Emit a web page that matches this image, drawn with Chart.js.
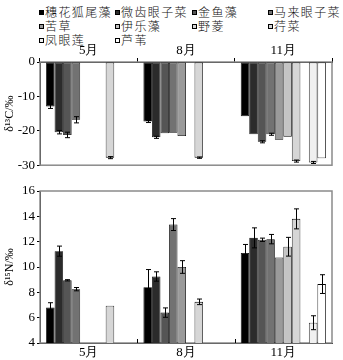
<!DOCTYPE html>
<html><head><meta charset="utf-8">
<script src="https://cdn.jsdelivr.net/npm/chart.js@4/dist/chart.umd.min.js"></script>
<style>
html,body{margin:0;padding:0;background:#fff;width:343px;height:360px;overflow:hidden;}
#legend{position:absolute;left:0;top:0;width:343px;height:46px;font-family:"Noto Sans CJK SC",sans-serif;font-size:12px;letter-spacing:1.4px;color:#111;font-weight:300;}
.li{position:absolute;height:14px;line-height:14px;white-space:nowrap;}
.mk{display:inline-block;width:3px;height:3px;border:1px solid #000;margin-right:1px;vertical-align:middle;position:relative;top:-1px;}
#c1wrap{position:absolute;left:0;top:44px;width:343px;height:131px;}
#c2wrap{position:absolute;left:0;top:175px;width:343px;height:185px;}
</style></head>
<body>
<div id="legend"></div>
<div id="c1wrap"><canvas id="c1"></canvas></div>
<div id="c2wrap"><canvas id="c2"></canvas></div>
<script>
const months = ["5月", "8月", "11月"];
const species = ["穗花狐尾藻", "微齿眼子菜", "金鱼藻", "马来眼子菜", "苦草", "伊乐藻", "野菱", "荇菜", "凤眼莲", "芦苇"];
const colors = ["#000000", "#2b2b2b", "#555555", "#727272", "#9a9a9a", "#c4c4c4", "#d6d6d6", "#d6d6d6", "#f0f0f0", "#ffffff"];

// δ13C values per species (5月, 8月, 11月)
const c_穗花狐尾藻 = [-12.9, -17.3, -15.8];
const c_微齿眼子菜 = [-20.4, -21.9, -21.0];
const c_金鱼藻 = [-21.2, -20.7, -23.2];
const c_马来眼子菜 = [-16.8, -20.6, -21.0];
const c_苦草 = [null, -21.5, -22.6];
const c_伊乐藻 = [null, null, -21.7];
const c_野菱 = [null, -27.8, -28.8];
const c_荇菜 = [-27.8, null, null];
const c_凤眼莲 = [null, null, -29.2];
const c_芦苇 = [null, null, -28.0];
const cErr_穗花狐尾藻 = [0.6, 0.3, 0];
const cErr_微齿眼子菜 = [0.5, 0.3, 0];
const cErr_金鱼藻 = [0.8, 0, 0.3];
const cErr_马来眼子菜 = [0.9, 0, 0.3];
const cErr_苦草 = [0, 0, 0];
const cErr_伊乐藻 = [0, 0, 0];
const cErr_野菱 = [0, 0.2, 0.3];
const cErr_荇菜 = [0.3, 0, 0];
const cErr_凤眼莲 = [0, 0, 0.3];
const cErr_芦苇 = [0, 0, 0];

// δ15N values per species (5月, 8月, 11月)
const n_穗花狐尾藻 = [6.8, 8.4, 11.1];
const n_微齿眼子菜 = [11.25, 9.25, 12.3];
const n_金鱼藻 = [8.95, 6.4, 12.15];
const n_马来眼子菜 = [8.25, 13.35, 12.2];
const n_苦草 = [null, 10.0, 10.75];
const n_伊乐藻 = [null, null, 11.6];
const n_野菱 = [null, 7.25, 13.8];
const n_荇菜 = [6.95, null, null];
const n_凤眼莲 = [null, null, 5.6];
const n_芦苇 = [null, null, 8.65];
const nErr_穗花狐尾藻 = [0.38, 1.4, 0.68];
const nErr_微齿眼子菜 = [0.4, 0.37, 0.79];
const nErr_金鱼藻 = [0.05, 0.37, 0.13];
const nErr_马来眼子菜 = [0.13, 0.47, 0.37];
const nErr_苦草 = [0, 0.5, 0];
const nErr_伊乐藻 = [0, 0, 0.74];
const nErr_野菱 = [0, 0.22, 0.79];
const nErr_荇菜 = [0, 0, 0];
const nErr_凤眼莲 = [0, 0, 0.55];
const nErr_芦苇 = [0, 0, 0.74];

const cTicks = [0, -5, -10, -15, -20, -25, -30];
const nTicks = [4, 6, 8, 10, 12, 14, 16];

const cVals = [c_穗花狐尾藻, c_微齿眼子菜, c_金鱼藻, c_马来眼子菜, c_苦草, c_伊乐藻, c_野菱, c_荇菜, c_凤眼莲, c_芦苇];
const cErrs = [cErr_穗花狐尾藻, cErr_微齿眼子菜, cErr_金鱼藻, cErr_马来眼子菜, cErr_苦草, cErr_伊乐藻, cErr_野菱, cErr_荇菜, cErr_凤眼莲, cErr_芦苇];
const nVals = [n_穗花狐尾藻, n_微齿眼子菜, n_金鱼藻, n_马来眼子菜, n_苦草, n_伊乐藻, n_野菱, n_荇菜, n_凤眼莲, n_芦苇];
const nErrs = [nErr_穗花狐尾藻, nErr_微齿眼子菜, nErr_金鱼藻, nErr_马来眼子菜, nErr_苦草, nErr_伊乐藻, nErr_野菱, nErr_荇菜, nErr_凤眼莲, nErr_芦苇];

// HTML legend, 4 columns
const legCols = [39, 115, 192, 268];
const legRows = [5, 19, 33];
const legend = document.getElementById('legend');
species.forEach((s, i) => {
  const d = document.createElement('div');
  d.className = 'li';
  d.style.left = legCols[i % 4] + 'px';
  d.style.top = legRows[Math.floor(i / 4)] + 'px';
  const m = document.createElement('span');
  m.className = 'mk';
  m.style.background = colors[i];
  d.appendChild(m);
  d.appendChild(document.createTextNode(s));
  legend.appendChild(d);
});

const serif = "'Liberation Serif','Times New Roman',serif";

const errPlugin = {
  id: 'errbars',
  afterDatasetsDraw(chart, args, opts) {
    const ctx = chart.ctx, ys = chart.scales.y;
    ctx.save();
    ctx.strokeStyle = '#000';
    ctx.lineWidth = 1;
    chart.data.datasets.forEach((ds, di) => {
      const meta = chart.getDatasetMeta(di);
      ds.data.forEach((v, i) => {
        const e = ds.err[i];
        if (v == null || !e) return;
        const x = Math.round(meta.data[i].x) + 0.5;
        const y1 = ys.getPixelForValue(v - e), y2 = ys.getPixelForValue(v + e);
        ctx.beginPath();
        ctx.moveTo(x, y1); ctx.lineTo(x, y2);
        ctx.moveTo(x - 2.5, y1); ctx.lineTo(x + 2.5, y1);
        ctx.moveTo(x - 2.5, y2); ctx.lineTo(x + 2.5, y2);
        ctx.stroke();
      });
    });
    ctx.restore();
  }
};

const framePlugin = {
  id: 'frame',
  beforeDatasetsDraw(chart) {
    const a = chart.chartArea, ctx = chart.ctx;
    ctx.save();
    ctx.strokeStyle = '#8a8a8a';
    ctx.lineWidth = 1.5;
    ctx.strokeRect(a.left, a.top, a.right - a.left, a.bottom - a.top);
    ctx.restore();
  },
  afterDraw(chart, args, opts) {
    if (!opts.inwardTicks) return;
    const xs = chart.scales.x, ctx = chart.ctx, a = chart.chartArea;
    ctx.save();
    ctx.strokeStyle = '#000';
    ctx.lineWidth = 1;
    for (let i = 1; i < months.length; i++) {
      const x = Math.round((xs.getPixelForTick(i - 1) + xs.getPixelForTick(i)) / 2) + 0.5;
      ctx.beginPath(); ctx.moveTo(x, a.bottom); ctx.lineTo(x, a.bottom - 4); ctx.stroke();
    }
    ctx.restore();
  }
};

function makeDatasets(vals, errs) {
  return species.map((s, i) => ({
    label: s,
    data: vals[i],
    err: errs[i],
    backgroundColor: colors[i],
    borderColor: '#000',
    borderWidth: 0.8,
    borderSkipped: false,
    categoryPercentage: 0.875,
    barPercentage: 1.0
  }));
}

function yAxis(min, max, step, title, ticksArr) {
  return {
    min: min, max: max,
    afterFit(s) { s.width = 40; },
    afterBuildTicks(s) { s.ticks = ticksArr.map(v => ({ value: v })); },
    ticks: { stepSize: step, color: '#000', font: { family: serif, size: 13 }, padding: 2 },
    grid: { drawOnChartArea: false, tickLength: 3, color: '#000' },
    border: { color: '#000', width: 1 },
    title: { display: true, text: title, color: '#000', font: { family: serif, size: 12 }, padding: { top: 3, bottom: 0 } }
  };
}

Chart.defaults.animation = false;
Chart.defaults.responsive = true;
Chart.defaults.maintainAspectRatio = false;

new Chart(document.getElementById('c1'), {
  type: 'bar',
  data: { labels: months, datasets: makeDatasets(cVals, cErrs) },
  options: {
    layout: { padding: { left: 0, right: 11, top: 0, bottom: 6 } },
    plugins: { legend: { display: false }, tooltip: { enabled: false }, frame: { inwardTicks: false } },
    scales: {
      x: {
        position: 'top',
        afterFit(s) { s.height = 18; },
        ticks: { color: '#000', font: { family: serif, size: 13 }, padding: 0 },
        grid: { offset: true, drawOnChartArea: false, tickLength: 4, color: '#000' },
        border: { color: '#000', width: 1 }
      },
      y: yAxis(-30, 0, 5, 'δ¹³C/‰', cTicks)
    }
  },
  plugins: [framePlugin, errPlugin]
});

new Chart(document.getElementById('c2'), {
  type: 'bar',
  data: { labels: months, datasets: makeDatasets(nVals, nErrs) },
  options: {
    layout: { padding: { left: 0, right: 11, top: 16, bottom: 0 } },
    plugins: { legend: { display: false }, tooltip: { enabled: false }, frame: { inwardTicks: true } },
    scales: {
      x: {
        afterFit(s) { s.height = 17; },
        ticks: { color: '#000', font: { family: serif, size: 13 }, padding: 2 },
        grid: { display: true, drawOnChartArea: false, drawTicks: false, tickLength: 0, color: '#000' },
        border: { color: '#000', width: 1 }
      },
      y: yAxis(4, 16, 2, 'δ¹⁵N/‰', nTicks)
    }
  },
  plugins: [framePlugin, errPlugin]
});
</script>
</body></html>
